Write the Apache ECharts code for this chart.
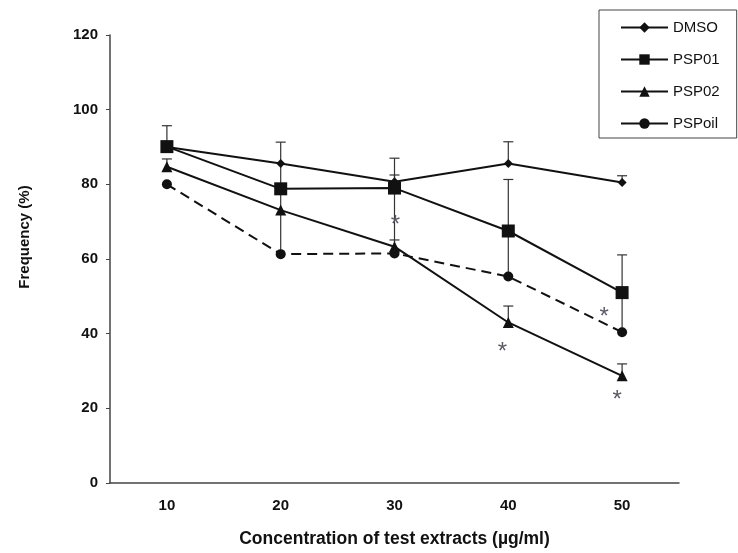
<!DOCTYPE html>
<html><head><meta charset="utf-8">
<script src="https://cdn.jsdelivr.net/npm/echarts@6/dist/echarts.min.js"></script>
<style>html,body{margin:0;padding:0;background:#fff}#c{width:738px;height:553px}</style>
</head><body><div id="c"></div>
<script>
// ---- data ----
const categories = ['10', '20', '30', '40', '50'];
const dmso   = [90.0, 85.6, 80.7, 85.6, 80.5];
const psp01  = [90.1, 78.8, 79.0, 67.5, 51.0];
const psp02  = [84.7, 73.1, 63.3, 43.0, 28.7];
const pspoil = [80.0, 61.3, 61.5, 55.3, 40.4];
// upper end of the error bars (null = none drawn)
const dmsoUpper   = [null, null, 82.5, 91.4, 82.3];
const psp01Upper  = [95.7, null, 87.0, 81.3, 61.1];
const psp02Upper  = [86.8, null, 65.1, 47.4, 31.9];
const pspoilUpper = [null, 91.3, 79.0, 67.5, 51.0];
// significance markers
const asteriskCat = [2, 3, 4, 4];
const asteriskVal = [70.7, 36.5, 45.9, 23.8];
const seriesNames = ['DMSO', 'PSP01', 'PSP02', 'PSPoil'];

// ---- build ----
const FONT = "'Liberation Sans', Arial, sans-serif";
const INK = '#111';
const asteriskDx = [1, -6, -18, -5];

function errData(vals, ups) {
  const out = [];
  vals.forEach((v, i) => { if (ups[i] != null) out.push([i, v, ups[i]]); });
  return out;
}
const errAll = [].concat(
  errData(dmso, dmsoUpper), errData(psp01, psp01Upper),
  errData(psp02, psp02Upper), errData(pspoil, pspoilUpper));

function errRender(params, api) {
  const p1 = api.coord([api.value(0), api.value(1)]);
  const p2 = api.coord([api.value(0), api.value(2)]);
  const st = { stroke: '#333', lineWidth: 1.2 };
  return { type: 'group', children: [
    { type: 'line', shape: { x1: p1[0], y1: p1[1], x2: p2[0], y2: p2[1] }, style: st },
    { type: 'line', shape: { x1: p2[0] - 5, y1: p2[1], x2: p2[0] + 5, y2: p2[1] }, style: st }
  ]};
}
function starRender(params, api) {
  const p = api.coord([api.value(0), api.value(1)]);
  return { type: 'text', x: p[0] + asteriskDx[params.dataIndex], y: p[1] + 6,
    style: { text: '*', fill: '#5a5a66', font: '24px ' + FONT, align: 'center', verticalAlign: 'middle' } };
}

function lineSeries(name, data, symbol, size, dashed) {
  return {
    name: name, type: 'line', data: data, symbol: symbol, symbolSize: size, z: 3,
    lineStyle: { color: INK, width: 2, type: dashed ? [10, 6] : 'solid' },
    itemStyle: { color: INK }
  };
}

const option = {
  animation: false,
  backgroundColor: '#fff',
  textStyle: { fontFamily: FONT },
  grid: { left: 110, right: 59, top: 35, bottom: 70 },
  legend: {
    left: 599, top: 10, orient: 'vertical',
    padding: [10, 17, 7, 21], itemGap: 17, itemWidth: 47, itemHeight: 13,
    borderColor: '#444', borderWidth: 1, borderRadius: 0,
    textStyle: { fontSize: 15, color: '#111', fontFamily: FONT },
    data: [
      { name: 'DMSO' }, { name: 'PSP01' }, { name: 'PSP02' },
      { name: 'PSPoil', lineStyle: { type: 'solid' } }
    ]
  },
  xAxis: {
    type: 'category', data: categories, boundaryGap: true,
    name: 'Concentration of test extracts (µg/ml)', nameLocation: 'middle', nameGap: 47,
    nameTextStyle: { fontSize: 17.5, fontWeight: 'bold', color: '#111', fontFamily: FONT },
    axisLine: { lineStyle: { color: '#444', width: 1.5 } },
    axisTick: { alignWithLabel: true, length: 3, lineStyle: { color: '#444' } },
    axisLabel: { fontSize: 15, fontWeight: 'bold', color: '#111', margin: 15, fontFamily: FONT },
    splitLine: { show: false }
  },
  yAxis: {
    type: 'value', min: 0, max: 120, interval: 20,
    name: 'Frequency (%)', nameLocation: 'middle', nameGap: 78,
    nameTextStyle: { fontSize: 15, fontWeight: 'bold', color: '#111', fontFamily: FONT, padding: [0, 0, 0, 44] },
    axisLine: { show: true, lineStyle: { color: '#444', width: 1.5 } },
    axisTick: { show: true, length: 4, lineStyle: { color: '#444' } },
    axisLabel: { fontSize: 15, fontWeight: 'bold', color: '#111', margin: 12, fontFamily: FONT },
    splitLine: { show: false }
  },
  series: [
    { type: 'custom', name: 'err', renderItem: errRender, data: errAll, z: 1,
      encode: { x: 0, y: [1, 2] }, silent: true },
    lineSeries('DMSO', dmso, 'diamond', 9, false),
    lineSeries('PSP01', psp01, 'rect', 13, false),
    lineSeries('PSP02', psp02, 'triangle', 11, false),
    lineSeries('PSPoil', pspoil, 'circle', 10, true),
    { type: 'custom', name: 'stars', renderItem: starRender, z: 4, silent: true,
      data: asteriskCat.map((c, i) => [c, asteriskVal[i]]), encode: { x: 0, y: 1 } }
  ]
};
echarts.init(document.getElementById('c'), null, { renderer: 'canvas' }).setOption(option);
</script></body></html>
